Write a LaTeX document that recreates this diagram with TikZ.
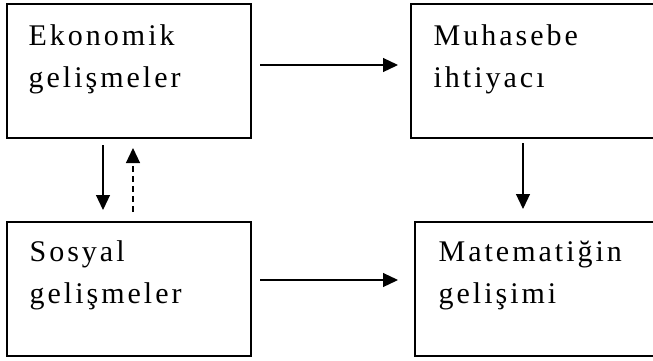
\documentclass[tikz,border=0pt]{standalone}
\usepackage{fontspec}
\setmainfont{Liberation Serif}[LetterSpace=10]
\usetikzlibrary{positioning, arrows.meta}
\tikzset{every picture/.style={line width=1.2pt}}

\begin{document}
\begin{tikzpicture}[x=1pt,y=-1pt,>={Triangle[length=15pt,width=14pt]},
        kutu/.style={draw, line width=1.8pt, minimum width=244pt, minimum height=134pt, inner sep=0pt, outer sep=0pt},
        genis/.style={kutu, minimum width=250pt},
        yazi/.style={anchor=base west, align=left, inner sep=0pt, font=\fontsize{30}{42}\selectfont}]
        \useasboundingbox (0,0) rectangle (653,360);
        \node[kutu, anchor=north west] (eko) at (7,4) {};
        \node[genis, right=160pt of eko] (muh) {};
        \node[kutu, below=84pt of eko] (sos) {};
        \node[genis, right=164pt of sos] (mat) {};
        % alt satirin tabani
        \node[yazi] (ekoY) at ([shift={(21pt,-83pt)}]eko.north west) {Ekonomik\\gelişmeler};
        \node[yazi] (muhY) at ([shift={(22pt,-83pt)}]muh.north west) {Muhasebe\\ihtiyacı};
        \node[yazi] (sosY) at ([shift={(22pt,-81pt)}]sos.north west) {Sosyal\\gelişmeler};
        \node[yazi] (matY) at ([shift={(23pt,-81pt)}]mat.north west) {Matematiğin\\gelişimi};
        \draw
            ([yshift=6pt]eko.east) edge[->, shorten <=9pt, shorten >=13pt] ([yshift=6pt]eko.east -| muh.west)
            ([yshift=9pt]sos.east) edge[->, shorten <=9pt, shorten >=17pt] ([yshift=9pt]sos.east -| mat.west)
            ([xshift=96pt]eko.south west) edge[->, shorten <=7pt, shorten >=12pt] ([xshift=96pt]eko.south west |- sos.north)
            ([xshift=126pt]eko.south west |- sos.north) edge[->, dash pattern=on 6pt off 4pt, shorten <=10pt, shorten >=10pt] ([xshift=126pt]eko.south west)
            ([xshift=112pt]muh.south west) edge[->, shorten <=5pt, shorten >=13pt] ([xshift=112pt]muh.south west |- mat.north)
            ;
    \end{tikzpicture}
\end{document}
